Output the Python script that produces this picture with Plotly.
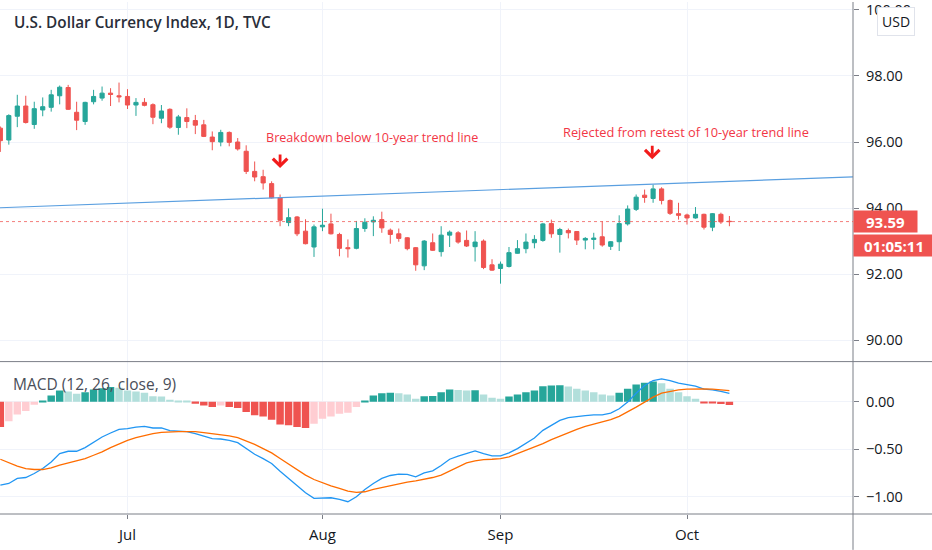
import numpy as np
import pandas as pd
import plotly.graph_objects as go

# trading days shown on the chart (daily bars, weekdays)
dates = pd.bdate_range("2020-06-10", "2020-10-08")

opens = [96.42, 96.06, 96.78, 97.09, 96.53, 96.97, 97.05, 97.40, 97.65, 96.90,
         96.62, 97.22, 97.33, 97.48, 97.40, 97.38, 97.12, 97.20, 97.13, 96.72,
         96.99, 96.44, 96.74, 96.65, 96.52, 96.15, 96.00, 96.29, 96.00, 95.72,
         95.11, 94.95, 94.74, 94.31, 93.56, 93.73, 93.30, 92.82, 93.43, 93.52,
         93.20, 92.80, 92.78, 93.38, 93.58, 93.65, 93.33, 93.22, 93.10, 92.80,
         92.25, 92.95, 92.68, 93.18, 93.25, 93.02, 92.83, 93.00, 92.28, 92.17,
         92.23, 92.63, 92.77, 92.95, 93.02, 93.53, 93.20, 93.32, 93.29, 93.03,
         93.05, 93.13, 92.84, 92.98, 93.52, 93.96, 94.39, 94.29, 94.58, 94.23,
         93.83, 93.79, 93.70, 93.81, 93.42, 93.81, 93.60]
highs = [96.47, 96.84, 97.43, 97.40, 97.22, 97.35, 97.58, 97.71, 97.73, 97.22,
         97.22, 97.58, 97.68, 97.63, 97.80, 97.60, 97.33, 97.33, 97.17, 97.12,
         97.02, 96.82, 97.02, 96.82, 96.67, 96.32, 96.37, 96.32, 96.12, 95.90,
         95.41, 95.16, 94.81, 94.41, 93.99, 93.76, 93.66, 93.50, 93.98, 93.83,
         93.25, 93.05, 93.61, 93.69, 93.75, 93.89, 93.38, 93.38, 93.12, 92.82,
         93.03, 93.23, 93.45, 93.32, 93.30, 93.32, 93.30, 93.05, 92.45, 92.38,
         92.82, 93.03, 93.23, 93.18, 93.55, 93.65, 93.40, 93.38, 93.30, 93.12,
         93.25, 93.60, 93.00, 93.78, 94.08, 94.41, 94.56, 94.71, 94.63, 94.26,
         94.16, 93.83, 94.03, 93.83, 93.85, 93.86, 93.76]
lows = [95.70, 95.92, 96.45, 96.56, 96.40, 96.78, 96.92, 97.14, 96.97, 96.36,
        96.52, 97.14, 97.25, 97.09, 97.20, 97.00, 96.79, 97.08, 96.54, 96.57,
        96.40, 96.22, 96.42, 96.24, 96.15, 95.75, 95.87, 95.87, 95.74, 95.03,
        94.81, 94.56, 94.29, 93.45, 93.45, 93.15, 92.90, 92.52, 93.30, 93.20,
        92.54, 92.50, 92.75, 93.28, 93.15, 93.25, 92.92, 92.98, 92.72, 92.10,
        92.12, 92.70, 92.53, 92.82, 92.92, 92.82, 92.38, 92.15, 92.10, 91.71,
        92.20, 92.62, 92.63, 92.78, 92.98, 93.10, 92.65, 93.08, 92.88, 92.75,
        92.75, 92.83, 92.73, 92.70, 93.47, 93.91, 94.16, 94.16, 94.11, 93.79,
        93.65, 93.50, 93.68, 93.35, 93.30, 93.52, 93.45]
closes = [96.04, 96.80, 97.09, 96.59, 97.01, 97.07, 97.43, 97.66, 96.99, 96.66,
          97.20, 97.38, 97.48, 97.44, 97.37, 97.12, 97.20, 97.11, 96.75, 96.94,
          96.45, 96.76, 96.62, 96.51, 96.17, 96.01, 96.29, 95.99, 95.79, 95.11,
          94.94, 94.76, 94.31, 93.63, 93.71, 93.22, 92.92, 93.43, 93.48, 93.22,
          92.78, 92.77, 93.38, 93.57, 93.63, 93.40, 93.20, 93.08, 92.77, 92.28,
          93.00, 92.72, 93.18, 93.27, 92.97, 92.85, 92.97, 92.20, 92.12, 92.30,
          92.65, 92.77, 92.97, 93.05, 93.52, 93.22, 93.35, 93.25, 93.03, 93.08,
          93.09, 92.88, 92.98, 93.53, 93.97, 94.33, 94.32, 94.58, 94.23, 93.84,
          93.78, 93.70, 93.81, 93.42, 93.83, 93.58, 93.59]

# MACD (12, 26, close, 9)
macd_line = [-0.877, -0.860, -0.807, -0.797, -0.755, -0.703, -0.633, -0.545, -0.521, -0.521,
             -0.482, -0.423, -0.371, -0.329, -0.290, -0.283, -0.266, -0.259, -0.276, -0.276,
             -0.304, -0.308, -0.315, -0.336, -0.364, -0.388, -0.392, -0.406, -0.430, -0.493,
             -0.552, -0.598, -0.650, -0.731, -0.807, -0.877, -0.958, -1.017, -1.017, -1.010,
             -1.027, -1.052, -0.999, -0.923, -0.860, -0.807, -0.776, -0.762, -0.765, -0.790,
             -0.748, -0.727, -0.671, -0.605, -0.573, -0.545, -0.517, -0.545, -0.570, -0.570,
             -0.538, -0.493, -0.440, -0.381, -0.301, -0.248, -0.196, -0.168, -0.161, -0.147,
             -0.137, -0.137, -0.119, -0.074, -0.004, 0.090, 0.171, 0.223, 0.241, 0.223,
             0.195, 0.178, 0.164, 0.132, 0.125, 0.108, 0.087]
signal_line = [-0.605, -0.643, -0.678, -0.703, -0.713, -0.713, -0.696, -0.668, -0.643, -0.622,
               -0.598, -0.563, -0.528, -0.482, -0.440, -0.406, -0.378, -0.353, -0.336, -0.322,
               -0.315, -0.315, -0.315, -0.315, -0.325, -0.336, -0.346, -0.360, -0.378, -0.413,
               -0.448, -0.493, -0.538, -0.598, -0.657, -0.720, -0.772, -0.818, -0.853, -0.884,
               -0.912, -0.940, -0.954, -0.947, -0.923, -0.902, -0.881, -0.860, -0.846, -0.832,
               -0.815, -0.797, -0.772, -0.731, -0.685, -0.643, -0.622, -0.608, -0.605, -0.598,
               -0.580, -0.545, -0.510, -0.482, -0.440, -0.399, -0.360, -0.325, -0.290, -0.259,
               -0.235, -0.214, -0.189, -0.154, -0.109, -0.056, -0.004, 0.049, 0.090, 0.111,
               0.125, 0.132, 0.136, 0.136, 0.132, 0.125, 0.118]
hist = [-0.266, -0.206, -0.133, -0.098, -0.032, 0.010, 0.066, 0.118, 0.108, 0.083,
        0.101, 0.129, 0.143, 0.154, 0.147, 0.118, 0.108, 0.094, 0.059, 0.056,
        0.021, 0.014, 0.010, -0.021, -0.039, -0.056, -0.039, -0.056, -0.067, -0.109,
        -0.143, -0.154, -0.189, -0.238, -0.248, -0.266, -0.276, -0.231, -0.178, -0.154,
        -0.126, -0.116, -0.056, 0.014, 0.066, 0.090, 0.094, 0.090, 0.077, 0.031,
        0.059, 0.061, 0.101, 0.129, 0.125, 0.118, 0.121, 0.077, 0.042, 0.031,
        0.056, 0.077, 0.101, 0.118, 0.164, 0.171, 0.173, 0.160, 0.136, 0.118,
        0.101, 0.077, 0.066, 0.094, 0.136, 0.181, 0.199, 0.213, 0.195, 0.136,
        0.101, 0.059, 0.031, -0.012, -0.014, -0.024, -0.035]

# 10-year trend line drawing (bar index, price)
trend_x = [-1, 101]
trend_y = [94.00, 94.95]

price_ticks = [90, 92, 94, 96, 98, 100]
macd_ticks = [0, -0.5, -1.0]

UP, DOWN = "#26a69a", "#ef5350"
GRID = "#f0f3fa"
AXIS = "#7b7e87"
TXT = "#131722"

x = list(range(len(dates)))

# month labels at the first bar of each month
tick_pos, tick_txt = [], []
for i in range(1, len(dates)):
    if dates[i].month != dates[i - 1].month:
        tick_pos.append(i)
        tick_txt.append(dates[i].strftime("%b"))

# histogram colours, TradingView style
hist_colors = []
for i, h in enumerate(hist):
    prev = hist[i - 1] if i else h
    if h >= 0:
        hist_colors.append("#26a69a" if h > prev else "#b2dfdb")
    else:
        hist_colors.append("#ffcdd2" if h > prev else "#ef5350")

fig = go.Figure()

fig.add_trace(go.Scatter(
    x=trend_x, y=trend_y, mode="lines",
    line=dict(color="#5a9fe0", width=1.2),
    xaxis="x", yaxis="y", hoverinfo="skip"
))

fig.add_trace(go.Candlestick(
    x=x, open=opens, high=highs, low=lows, close=closes,
    increasing=dict(line=dict(color=UP, width=1), fillcolor=UP),
    decreasing=dict(line=dict(color=DOWN, width=1), fillcolor=DOWN),
    whiskerwidth=0, xaxis="x", yaxis="y", name="DXY"
))

fig.add_trace(go.Bar(
    x=x, y=hist, marker=dict(color=hist_colors, line=dict(width=0)),
    xaxis="x2", yaxis="y2", name="Histogram"
))
fig.add_trace(go.Scatter(
    x=x, y=macd_line, mode="lines", line=dict(color="#2196f3", width=1.3),
    xaxis="x2", yaxis="y2", name="MACD"
))
fig.add_trace(go.Scatter(
    x=x, y=signal_line, mode="lines", line=dict(color="#ff6d00", width=1.3),
    xaxis="x2", yaxis="y2", name="Signal"
))

split = (514 - 361) / 514
xrange = [-0.04, 100.58]

fig.update_layout(
    width=932, height=550,
    margin=dict(l=0, r=79, t=0, b=36),
    paper_bgcolor="white", plot_bgcolor="white",
    font=dict(family="Open Sans", color=TXT, size=13),
    showlegend=False,
    bargap=0.12,
    boxgap=0.3,
    xaxis=dict(
        domain=[0, 1], anchor="y", range=xrange,
        rangeslider=dict(visible=False),
        tickvals=tick_pos, showticklabels=False, ticks="",
        showgrid=True, gridcolor=GRID, zeroline=False,
    ),
    xaxis2=dict(
        domain=[0, 1], anchor="y2", range=xrange, matches="x",
        tickvals=tick_pos, ticktext=tick_txt,
        ticks="outside", ticklen=4, tickcolor=AXIS, ticklabelstandoff=3,
        tickfont=dict(size=15, color=TXT),
        showgrid=True, gridcolor=GRID, zeroline=False,
    ),
    yaxis=dict(
        domain=[split, 1], anchor="x", side="right",
        range=[89.35, 100.24], tickvals=price_ticks, tickformat=".2f",
        ticks="outside", ticklen=5, tickcolor=AXIS, ticklabelstandoff=4,
        ticklabeloverflow="allow",
        tickfont=dict(size=14.5, color=TXT),
        showgrid=True, gridcolor=GRID, zeroline=False,
    ),
    yaxis2=dict(
        domain=[0, split], anchor="x2", side="right",
        range=[-1.181, 0.4225], tickvals=macd_ticks, tickformat=".2f",
        ticks="outside", ticklen=5, tickcolor=AXIS, ticklabelstandoff=4,
        tickfont=dict(size=14.5, color=TXT),
        showgrid=True, gridcolor=GRID, zeroline=False,
    ),
)

right = 932 / 853
fig.add_shape(type="line", xref="paper", yref="paper", x0=0, x1=right,
              y0=split, y1=split, line=dict(color=AXIS, width=1))
fig.add_shape(type="line", xref="paper", yref="paper", x0=0, x1=right,
              y0=0, y1=0, line=dict(color=AXIS, width=1))
fig.add_shape(type="line", xref="paper", yref="paper", x0=1, x1=1,
              y0=-36 / 514, y1=1, line=dict(color=AXIS, width=1))

# last price dotted line
fig.add_shape(type="line", xref="x", yref="y", x0=xrange[0], x1=xrange[1],
              y0=closes[-1], y1=closes[-1],
              line=dict(color="rgba(239,83,80,0.75)", width=1, dash="dot"))

# titles
fig.add_annotation(xref="paper", yref="paper", x=12 / 853, y=(514 - 20) / 514,
                   xanchor="left", yanchor="middle", showarrow=False,
                   text="U.S. Dollar Currency Index, 1D, TVC",
                   font=dict(size=15.3, color="#2a2e39", weight=600))
fig.add_annotation(xref="paper", yref="paper", x=11 / 853, y=(514 - 383) / 514,
                   xanchor="left", yanchor="middle", showarrow=False,
                   text="MACD (12, 26, close, 9)",
                   font=dict(size=15.5, color="#4a4e59"))

# chart notes
fig.add_annotation(xref="x", yref="y", x=31.1, y=96.15, xanchor="left",
                   yanchor="middle", showarrow=False,
                   text="Breakdown below 10-year trend line",
                   font=dict(size=12.6, color="#f23645"))
fig.add_annotation(xref="x", yref="y", x=66.1, y=96.30, xanchor="left",
                   yanchor="middle", showarrow=False,
                   text="Rejected from retest of 10-year trend line",
                   font=dict(size=12.8, color="#f23645"))
for ax_x, ax_y in [(33.0, 95.21), (76.9, 95.475)]:
    fig.add_annotation(xref="x", yref="y", x=ax_x, y=ax_y, ax=0, ay=-15,
                       text="", showarrow=True, arrowhead=4, arrowsize=1,
                       arrowwidth=2.8, arrowcolor="#f21b1b", standoff=0)

# right-scale labels
fig.add_annotation(xref="paper", yref="y", x=1, y=closes[-1], xanchor="left",
                   yanchor="middle", showarrow=False, text="%.2f" % closes[-1],
                   width=59, height=17, borderpad=2, bgcolor=DOWN, align="center",
                   font=dict(size=15, color="white", weight="bold"))
fig.add_annotation(xref="paper", yref="y", x=1, y=closes[-1], yshift=-24,
                   xanchor="left", yanchor="middle", showarrow=False,
                   text="01:05:11", width=76, height=17, borderpad=2,
                   bgcolor=DOWN, align="center",
                   font=dict(size=15, color="white", weight="bold"))
fig.add_annotation(xref="paper", yref="paper", x=896 / 853, y=(514 - 20) / 514,
                   xanchor="center", yanchor="middle", showarrow=False,
                   text="USD", bgcolor="white", bordercolor="#e0e3eb",
                   borderwidth=1, borderpad=4,
                   font=dict(size=14, color=TXT))

# the page body has a default 8px margin; drop it so the figure fills the window
fig.write_html("out.html", config={"displayModeBar": False},
               post_script="document.body.style.margin='0';")
